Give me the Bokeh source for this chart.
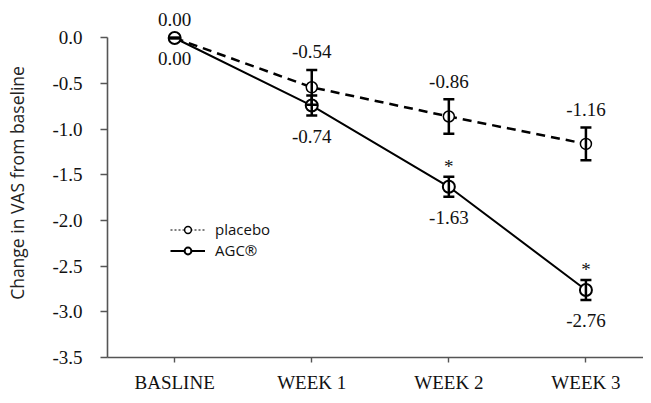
import numpy as np
from bokeh.plotting import figure
from bokeh.models import (ColumnDataSource, Range1d, FixedTicker, PrintfTickFormatter,
                          Whisker, TeeHead, Legend, LegendItem)
from bokeh.embed import file_html
from bokeh.resources import INLINE
from bokeh.core.properties import value

categories = ["BASLINE", "WEEK 1", "WEEK 2", "WEEK 3"]
placebo = [0.00, -0.54, -0.86, -1.16]
placebo_err = [0.0, 0.19, 0.19, 0.18]
agc = [0.00, -0.74, -1.63, -2.76]
agc_err = [0.0, 0.11, 0.11, 0.11]
agc_sig = [False, False, True, True]
y_ticks = [0.0, -0.5, -1.0, -1.5, -2.0, -2.5, -3.0, -3.5]
y_title = "Change in VAS from baseline"

x = list(range(len(categories)))
serif = "Liberation Serif"
sans = "Open Sans"

p = figure(width=643, height=395, output_backend="svg", toolbar_location=None,
           x_range=Range1d(-0.49, 3.42), y_range=Range1d(-3.5, 0.323),
           min_border_left=107, min_border_right=0, min_border_top=8, min_border_bottom=32)
p.grid.visible = False
p.outline_line_color = None
p.background_fill_color = "white"
p.border_fill_color = "white"

src_p = ColumnDataSource(dict(x=x, y=placebo, lo=[v - e for v, e in zip(placebo, placebo_err)],
                              hi=[v + e for v, e in zip(placebo, placebo_err)],
                              lab=[f"{v:.2f}" for v in placebo]))
src_a = ColumnDataSource(dict(x=x, y=agc, lo=[v - e for v, e in zip(agc, agc_err)],
                              hi=[v + e for v, e in zip(agc, agc_err)],
                              lab=[f"{v:.2f}" for v in agc]))

# lines
p.line("x", "y", source=src_p, line_color="black", line_width=2.5, line_dash="9 6")
p.line("x", "y", source=src_a, line_color="black", line_width=2)

# error bars
for src in (src_p, src_a):
    w = Whisker(base="x", upper="hi", lower="lo", source=src, dimension="height",
                line_color="black", line_width=2.5, level="glyph",
                upper_head=TeeHead(size=11, line_width=2.5, line_color="black"),
                lower_head=TeeHead(size=11, line_width=2.5, line_color="black"))
    p.add_layout(w)

# markers
p.scatter("x", "y", source=src_p, size=11, fill_color="white", line_color="black", line_width=1.5)
p.scatter("x", "y", source=src_a, size=12, fill_color="white", line_color="black", line_width=2)

# value labels
p.text("x", "hi", text="lab", source=src_p, text_align="center", text_baseline="middle",
       y_offset=-18, text_font=value(serif), text_font_size="19px", text_color="#111111")
p.text("x", "lo", text="lab", source=src_a, text_align="center", text_baseline="middle",
       y_offset=21, text_font=value(serif), text_font_size="19px", text_color="#111111")

# significance asterisks
sig_x = [xi for xi, s in zip(x, agc_sig) if s]
sig_y = [v + e for v, e, s in zip(agc, agc_err, agc_sig) if s]
p.text(sig_x, sig_y, text=["*"] * len(sig_x), text_align="center", text_baseline="middle",
       y_offset=-10, text_font=value(serif), text_font_size="19px", text_color="#111111")

# legend proxies (single NaN point, nothing drawn in the plot)
nan = [np.nan]
lp = p.line(nan, nan, line_color="black", line_width=1.2, line_dash="2 2")
lps = p.scatter(nan, nan, size=9, fill_color="white", line_color="black", line_width=1.5)
la = p.line(nan, nan, line_color="black", line_width=2)
las = p.scatter(nan, nan, size=9, fill_color="white", line_color="black", line_width=2)
legend_style = dict(padding=0, margin=0, spacing=0, border_line_color=None,
                    background_fill_alpha=0, label_text_font=sans,
                    label_text_font_size="15px", label_text_color="#111111",
                    glyph_width=35, glyph_height=17, label_height=17, label_standoff=10)
leg1 = Legend(items=[LegendItem(label="placebo", renderers=[lp, lps])],
              location=(63, 118), **legend_style)
leg2 = Legend(items=[LegendItem(label="AGC®", renderers=[la, las])],
              location=(63, 97), **legend_style)
p.add_layout(leg1, "center")
p.add_layout(leg2, "center")

# axes
for ax in (p.xaxis[0], p.yaxis[0]):
    ax.axis_line_color = "#555555"
    ax.axis_line_width = 1.6
    ax.major_tick_line_color = "#555555"
    ax.major_tick_line_width = 1.4
    ax.minor_tick_line_color = None
    ax.major_tick_in = 0
    ax.major_label_text_font = serif
    ax.major_label_text_font_size = "19px"
    ax.major_label_text_color = "#111111"

p.yaxis.ticker = FixedTicker(ticks=y_ticks)
p.yaxis.formatter = PrintfTickFormatter(format="%.1f")
p.yaxis.bounds = (-3.5, 0.0)
p.yaxis.major_tick_out = 7
p.yaxis.major_label_standoff = 18
p.yaxis.axis_label = y_title
p.yaxis.axis_label_text_font = sans
p.yaxis.axis_label_text_font_style = "normal"
p.yaxis.axis_label_text_font_size = "17.5px"
p.yaxis.axis_label_text_color = "#222222"
p.yaxis.axis_label_standoff = 20

p.xaxis.ticker = FixedTicker(ticks=x)
p.xaxis.major_label_overrides = {xi: c for xi, c in zip(x, categories)}
p.xaxis.major_tick_out = 5
p.xaxis.major_label_standoff = 9

open("out.html", "w").write(file_html(p, INLINE))
